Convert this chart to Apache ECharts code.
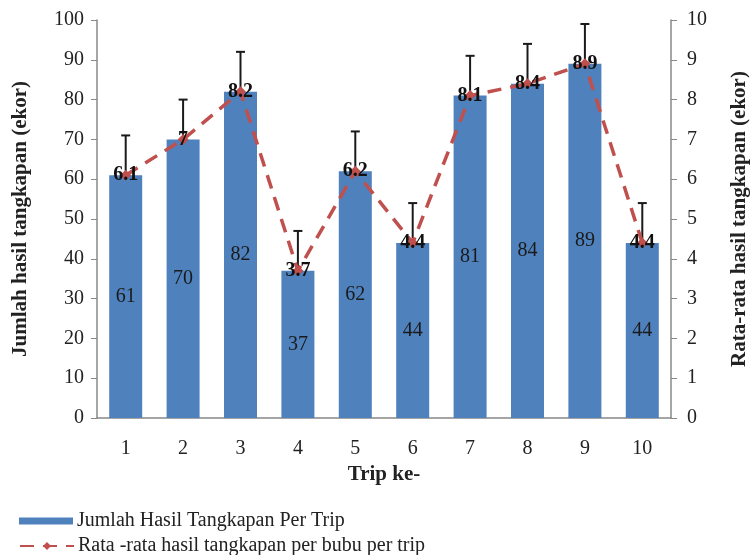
<!DOCTYPE html>
<html><head><meta charset="utf-8">
<script src="https://cdn.jsdelivr.net/npm/echarts@6/dist/echarts.min.js"></script>
<style>html,body{margin:0;padding:0;background:#fff}#c{width:750px;height:555px}</style>
</head><body><div id="c"></div>
<script>
const categories = ['1','2','3','4','5','6','7','8','9','10'];
const totalCatch = [61,70,82,37,62,44,81,84,89,44];
const errorTop = [71,80,92,47,72,54,91,94,99,54];
const avgPerTrap = [6.1,7,8.2,3.7,6.2,4.4,8.1,8.4,8.9,4.4];
const leftTicks = [0,10,20,30,40,50,60,70,80,90,100];
const rightTicks = [0,1,2,3,4,5,6,7,8,9,10];
const barName = 'Jumlah Hasil Tangkapan Per Trip';
const lineName = 'Rata -rata hasil tangkapan per bubu per trip';

const FONT = '"Liberation Serif", "Times New Roman", serif';
const FS = 20;
const chart = echarts.init(document.getElementById('c'));
chart.setOption({
  animation: false,
  textStyle: {fontFamily: FONT},
  grid: {left: 97, right: 79, top: 20, bottom: 137, outerBoundsMode: 'none', containLabel: false},
  legend: [{
    orient: 'horizontal', left: 14, top: 506, itemWidth: 54, itemHeight: 7, itemGap: 4,
    data: [{name: barName, icon: 'rect'}],
    textStyle: {fontFamily: FONT, fontSize: FS, color: '#222', padding: [0,0,0,-1]}
  }, {
    orient: 'horizontal', left: 14, top: 531, itemWidth: 54, itemHeight: 10, itemGap: 4,
    data: [lineName],
    textStyle: {fontFamily: FONT, fontSize: FS, color: '#222', padding: [0,0,0,-1]}
  }],
  xAxis: {
    type: 'category', data: categories,
    name: 'Trip ke-', nameLocation: 'middle', nameGap: 46,
    nameTextStyle: {fontFamily: FONT, fontSize: 21, fontWeight: 'bold', color: '#222'},
    axisLine: {lineStyle: {color: '#888', width: 1.5}},
    axisTick: {show: false},
    axisLabel: {fontFamily: FONT, fontSize: FS, color: '#222', margin: 21}
  },
  yAxis: [{
    type: 'value', min: leftTicks[0], max: leftTicks[leftTicks.length-1], interval: 10,
    name: 'Jumlah hasil tangkapan (ekor)', nameLocation: 'middle', nameGap: 66, nameRotate: 90,
    nameTextStyle: {fontFamily: FONT, fontSize: 21, fontWeight: 'bold', color: '#222'},
    axisLine: {show: true, lineStyle: {color: '#888', width: 1.5}},
    axisTick: {show: true, length: 6, lineStyle: {color: '#888'}},
    axisLabel: {fontFamily: FONT, fontSize: FS, color: '#222', margin: 13},
    splitLine: {show: false}
  }, {
    type: 'value', min: rightTicks[0], max: rightTicks[rightTicks.length-1], interval: 1,
    name: 'Rata-rata hasil tangkapan (ekor)', nameLocation: 'middle', nameGap: 58, nameRotate: 90,
    nameTextStyle: {fontFamily: FONT, fontSize: 21, fontWeight: 'bold', color: '#222'},
    axisLine: {show: true, lineStyle: {color: '#888', width: 1.5}},
    axisTick: {show: true, length: 6, lineStyle: {color: '#888'}},
    axisLabel: {fontFamily: FONT, fontSize: FS, color: '#222', margin: 16},
    splitLine: {show: false}
  }],
  series: [{
    name: barName, type: 'bar', data: totalCatch,
    barWidth: 33, itemStyle: {color: '#4F81BD'},
    label: {show: true, position: 'inside', fontFamily: FONT, fontSize: FS, color: '#1a1a1a'},
    z: 2
  }, {
    type: 'custom', name: 'err', yAxisIndex: 0, z: 3,
    data: categories.map((c, i) => [i, totalCatch[i], errorTop[i]]),
    renderItem: function (params, api) {
      const lo = api.coord([api.value(0), api.value(1)]);
      const hi = api.coord([api.value(0), api.value(2)]);
      const w = 4.5;
      return {type: 'group', children: [
        {type: 'line', shape: {x1: lo[0], y1: lo[1], x2: hi[0], y2: hi[1]}, style: {stroke: '#1a1a1a', lineWidth: 2}},
        {type: 'line', shape: {x1: hi[0]-w, y1: hi[1], x2: hi[0]+w, y2: hi[1]}, style: {stroke: '#1a1a1a', lineWidth: 2}}
      ]};
    },
    encode: {x: 0, y: [1, 2]}
  }, {
    name: lineName, type: 'line', yAxisIndex: 1, data: avgPerTrap,
    symbol: 'diamond', symbolSize: 11, z: 4,
    lineStyle: {color: '#C0504D', width: 3.5, type: [14, 9]},
    itemStyle: {color: '#C0504D'},
    label: {show: true, position: 'inside', fontFamily: FONT, fontSize: FS, fontWeight: 'bold', color: '#111'}
  }]
});
</script></body></html>
